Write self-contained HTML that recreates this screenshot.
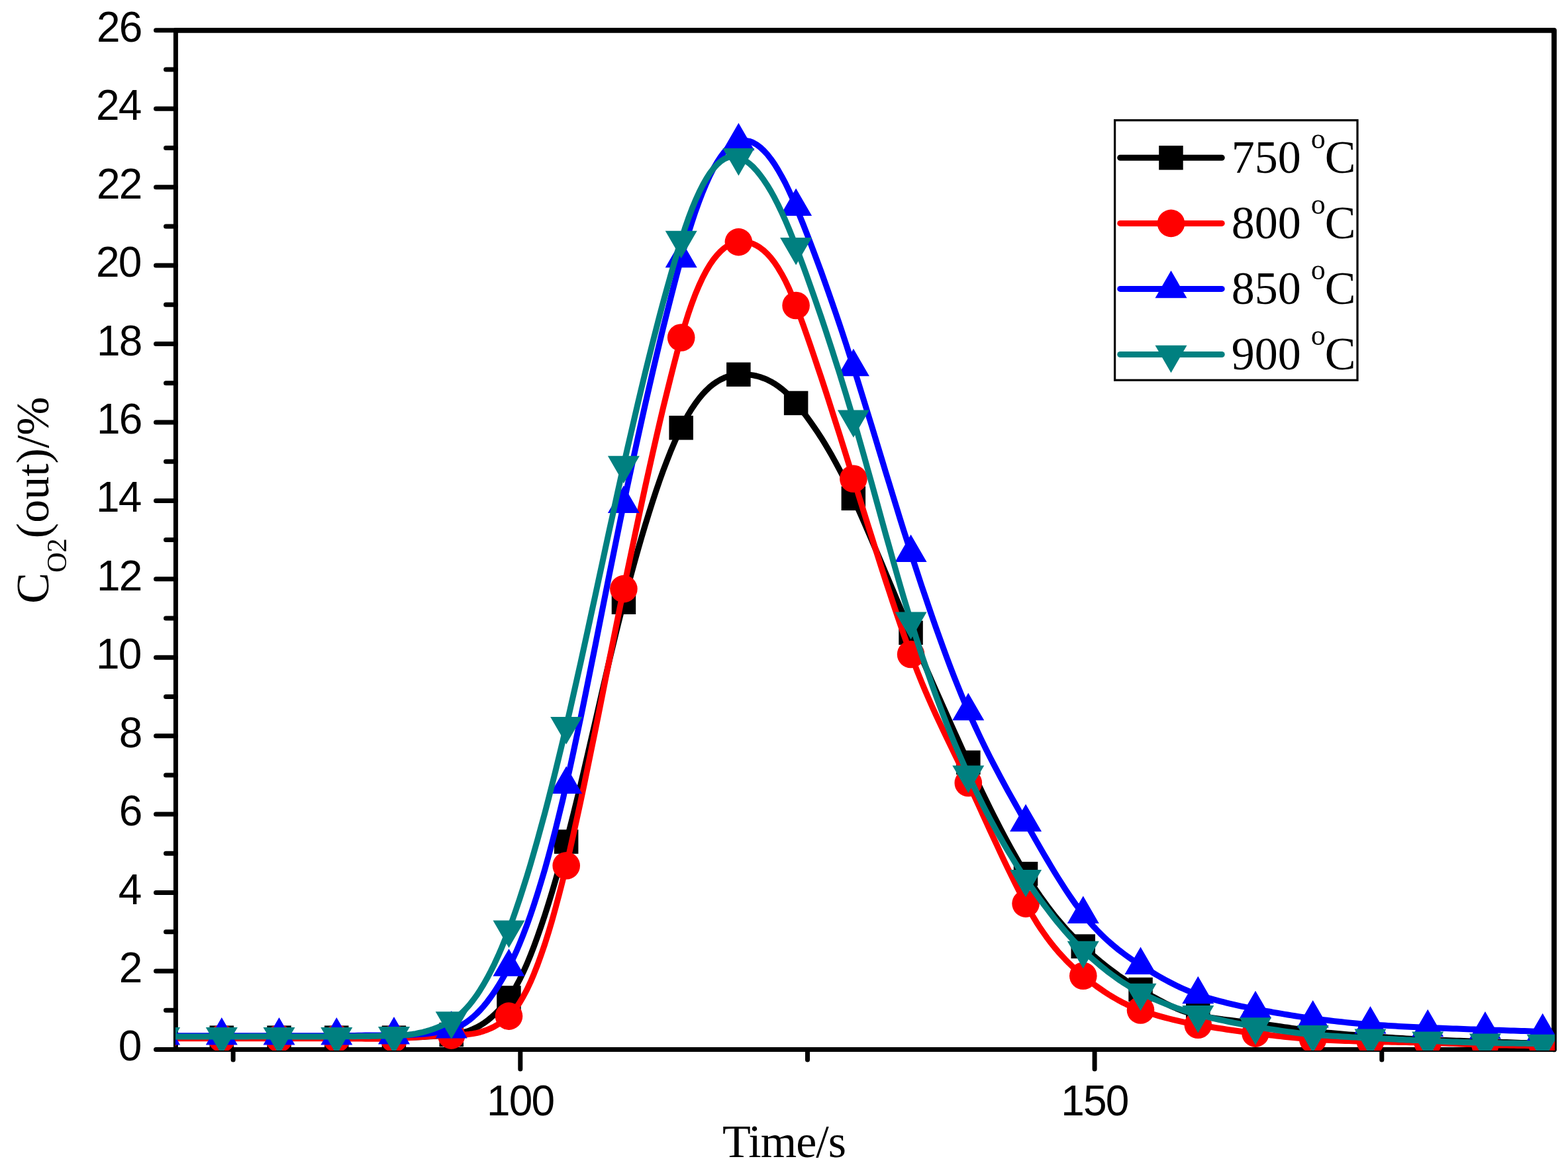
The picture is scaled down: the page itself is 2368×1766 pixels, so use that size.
<!DOCTYPE html><html><head><meta charset="utf-8"><style>html,body{margin:0;padding:0;background:#fff;}svg{display:block;}.s{font-family:"Liberation Sans",Arial,sans-serif;}.r{font-family:"Liberation Serif","Times New Roman",serif;}</style></head><body>
<svg width="2368" height="1766" viewBox="0 0 2368 1766">
<rect width="2368" height="1766" fill="#fff"/>
<g stroke="#000" stroke-linecap="round" fill="none">
<path d="M265.4,45.8 L2347.0,45.8 L2347.0,1585.4" stroke-width="7.8" stroke-linejoin="round"/>
<path d="M265.4,45.8 L265.4,1585.4 L2347.0,1585.4" stroke-width="7.0" stroke-linejoin="round"/>
</g>
<g stroke="#000" stroke-width="7.0" stroke-linecap="round" fill="none">
<line x1="235.5" y1="1585.4" x2="265.4" y2="1585.4"/>
<line x1="250.5" y1="1526.2" x2="265.4" y2="1526.2"/>
<line x1="235.5" y1="1467.0" x2="265.4" y2="1467.0"/>
<line x1="250.5" y1="1407.8" x2="265.4" y2="1407.8"/>
<line x1="235.5" y1="1348.5" x2="265.4" y2="1348.5"/>
<line x1="250.5" y1="1289.3" x2="265.4" y2="1289.3"/>
<line x1="235.5" y1="1230.1" x2="265.4" y2="1230.1"/>
<line x1="250.5" y1="1170.9" x2="265.4" y2="1170.9"/>
<line x1="235.5" y1="1111.7" x2="265.4" y2="1111.7"/>
<line x1="250.5" y1="1052.5" x2="265.4" y2="1052.5"/>
<line x1="235.5" y1="993.2" x2="265.4" y2="993.2"/>
<line x1="250.5" y1="934.0" x2="265.4" y2="934.0"/>
<line x1="235.5" y1="874.8" x2="265.4" y2="874.8"/>
<line x1="250.5" y1="815.6" x2="265.4" y2="815.6"/>
<line x1="235.5" y1="756.4" x2="265.4" y2="756.4"/>
<line x1="250.5" y1="697.2" x2="265.4" y2="697.2"/>
<line x1="235.5" y1="638.0" x2="265.4" y2="638.0"/>
<line x1="250.5" y1="578.7" x2="265.4" y2="578.7"/>
<line x1="235.5" y1="519.5" x2="265.4" y2="519.5"/>
<line x1="250.5" y1="460.3" x2="265.4" y2="460.3"/>
<line x1="235.5" y1="401.1" x2="265.4" y2="401.1"/>
<line x1="250.5" y1="341.9" x2="265.4" y2="341.9"/>
<line x1="235.5" y1="282.7" x2="265.4" y2="282.7"/>
<line x1="250.5" y1="223.4" x2="265.4" y2="223.4"/>
<line x1="235.5" y1="164.2" x2="265.4" y2="164.2"/>
<line x1="250.5" y1="105.0" x2="265.4" y2="105.0"/>
<line x1="235.5" y1="45.8" x2="265.4" y2="45.8"/>
<line x1="352.1" y1="1585.4" x2="352.1" y2="1601.0"/>
<line x1="785.8" y1="1585.4" x2="785.8" y2="1615.0"/>
<line x1="1219.5" y1="1585.4" x2="1219.5" y2="1601.0"/>
<line x1="1653.1" y1="1585.4" x2="1653.1" y2="1615.0"/>
<line x1="2086.8" y1="1585.4" x2="2086.8" y2="1601.0"/>
</g>
<g class="s" font-size="64" letter-spacing="-1.8" fill="#000">
<text x="178.7" y="1602.4">0</text>
<text x="179.7" y="1484.0">2</text>
<text x="178.7" y="1365.5">4</text>
<text x="179.7" y="1247.1">6</text>
<text x="179.7" y="1128.7">8</text>
<text x="144.9" y="1010.2">10</text>
<text x="145.9" y="891.8">12</text>
<text x="144.9" y="773.4">14</text>
<text x="145.9" y="655.0">16</text>
<text x="145.9" y="536.5">18</text>
<text x="144.9" y="418.1">20</text>
<text x="145.9" y="299.7">22</text>
<text x="144.9" y="181.2">24</text>
<text x="145.9" y="62.8">26</text>
<text x="734.9" y="1685">100</text>
<text x="1602.2" y="1685">150</text>
</g>
<defs><clipPath id="c"><rect x="265" y="45.8" width="2083.0" height="1541.2"/></clipPath></defs>
<g clip-path="url(#c)">
<path d="M248.1,1567.6 L253.5,1567.6 L258.9,1567.6 L264.3,1567.6 L269.7,1567.6 L275.2,1567.6 L280.6,1567.6 L286.0,1567.6 L291.4,1567.6 L296.8,1567.6 L302.3,1567.6 L307.7,1567.6 L313.1,1567.6 L318.5,1567.6 L323.9,1567.6 L329.4,1567.6 L334.8,1567.6 L340.2,1567.6 L345.6,1567.6 L351.0,1567.6 L356.5,1567.6 L361.9,1567.6 L367.3,1567.6 L372.7,1567.6 L378.2,1567.6 L383.6,1567.6 L389.0,1567.6 L394.4,1567.6 L399.8,1567.6 L405.3,1567.6 L410.7,1567.6 L416.1,1567.6 L421.5,1567.6 L426.9,1567.6 L432.4,1567.6 L437.8,1567.6 L443.2,1567.6 L448.6,1567.6 L454.0,1567.6 L459.5,1567.6 L464.9,1567.6 L470.3,1567.6 L475.7,1567.6 L481.1,1567.6 L486.6,1567.6 L492.0,1567.6 L497.4,1567.6 L502.8,1567.6 L508.3,1567.6 L513.7,1567.6 L519.1,1567.6 L524.5,1567.7 L529.9,1567.7 L535.4,1567.7 L540.8,1567.7 L546.2,1567.7 L551.6,1567.7 L557.0,1567.7 L562.5,1567.7 L567.9,1567.7 L573.3,1567.7 L578.7,1567.7 L584.1,1567.7 L589.6,1567.7 L595.0,1567.6 L600.4,1567.6 L605.8,1567.5 L611.2,1567.4 L616.7,1567.3 L622.1,1567.1 L627.5,1566.9 L632.9,1566.7 L638.4,1566.4 L643.8,1566.1 L649.2,1565.7 L654.6,1565.4 L660.0,1565.0 L665.5,1564.5 L670.9,1564.1 L676.3,1563.5 L681.7,1563.0 L687.1,1562.4 L692.6,1561.4 L698.0,1560.2 L703.4,1558.7 L708.8,1556.9 L714.2,1554.7 L719.7,1552.2 L725.1,1549.2 L730.5,1545.8 L735.9,1541.9 L741.3,1537.5 L746.8,1532.6 L752.2,1527.2 L757.6,1521.2 L763.0,1514.6 L768.5,1507.4 L773.9,1499.3 L779.3,1490.2 L784.7,1480.0 L790.1,1468.8 L795.6,1456.6 L801.0,1443.5 L806.4,1429.6 L811.8,1414.8 L817.2,1399.2 L822.7,1382.9 L828.1,1365.9 L833.5,1348.2 L838.9,1329.9 L844.3,1311.0 L849.8,1291.5 L855.2,1271.6 L860.6,1251.0 L866.0,1229.6 L871.4,1207.7 L876.9,1185.2 L882.3,1162.3 L887.7,1139.0 L893.1,1115.5 L898.6,1091.9 L904.0,1068.2 L909.4,1044.6 L914.8,1021.2 L920.2,998.0 L925.7,975.1 L931.1,952.8 L936.5,930.9 L941.9,909.8 L947.3,889.1 L952.8,869.0 L958.2,849.2 L963.6,830.0 L969.0,811.3 L974.4,793.1 L979.9,775.4 L985.3,758.4 L990.7,741.9 L996.1,726.1 L1001.5,711.0 L1007.0,696.6 L1012.4,682.8 L1017.8,669.9 L1023.2,657.7 L1028.7,646.2 L1034.1,635.7 L1039.5,626.0 L1044.9,617.2 L1050.3,609.2 L1055.8,601.9 L1061.2,595.4 L1066.6,589.7 L1072.0,584.6 L1077.4,580.2 L1082.9,576.5 L1088.3,573.3 L1093.7,570.8 L1099.1,568.8 L1104.5,567.3 L1110.0,566.3 L1115.4,565.7 L1120.8,565.5 L1126.2,565.6 L1131.6,566.1 L1137.1,566.9 L1142.5,568.0 L1147.9,569.5 L1153.3,571.4 L1158.8,573.7 L1164.2,576.4 L1169.6,579.6 L1175.0,583.2 L1180.4,587.3 L1185.9,591.9 L1191.3,597.1 L1196.7,602.7 L1202.1,608.9 L1207.5,615.6 L1213.0,622.5 L1218.4,629.6 L1223.8,637.1 L1229.2,644.8 L1234.6,652.8 L1240.1,661.2 L1245.5,669.9 L1250.9,679.0 L1256.3,688.3 L1261.7,698.1 L1267.2,708.3 L1272.6,718.8 L1278.0,729.7 L1283.4,741.1 L1288.9,752.8 L1294.3,764.9 L1299.7,777.1 L1305.1,789.5 L1310.5,802.0 L1316.0,814.7 L1321.4,827.4 L1326.8,840.2 L1332.2,853.1 L1337.6,866.0 L1343.1,878.9 L1348.5,891.8 L1353.9,904.7 L1359.3,917.6 L1364.7,930.5 L1370.2,943.2 L1375.6,955.9 L1381.0,968.6 L1386.4,981.1 L1391.8,993.7 L1397.3,1006.2 L1402.7,1018.6 L1408.1,1031.0 L1413.5,1043.3 L1419.0,1055.6 L1424.4,1067.8 L1429.8,1079.9 L1435.2,1092.1 L1440.6,1104.1 L1446.1,1116.2 L1451.5,1128.1 L1456.9,1140.1 L1462.3,1151.9 L1467.7,1163.7 L1473.2,1175.4 L1478.6,1186.8 L1484.0,1198.2 L1489.4,1209.3 L1494.8,1220.3 L1500.3,1231.2 L1505.7,1241.8 L1511.1,1252.3 L1516.5,1262.6 L1521.9,1272.7 L1527.4,1282.6 L1532.8,1292.3 L1538.2,1301.8 L1543.6,1311.1 L1549.1,1320.1 L1554.5,1328.9 L1559.9,1337.4 L1565.3,1345.6 L1570.7,1353.6 L1576.2,1361.2 L1581.6,1368.6 L1587.0,1375.8 L1592.4,1382.7 L1597.8,1389.3 L1603.3,1395.7 L1608.7,1401.9 L1614.1,1407.9 L1619.5,1413.6 L1624.9,1419.2 L1630.4,1424.5 L1635.8,1429.7 L1641.2,1434.7 L1646.6,1439.5 L1652.0,1444.3 L1657.5,1448.9 L1662.9,1453.4 L1668.3,1457.8 L1673.7,1462.0 L1679.2,1466.2 L1684.6,1470.2 L1690.0,1474.1 L1695.4,1477.8 L1700.8,1481.5 L1706.3,1485.0 L1711.7,1488.5 L1717.1,1491.8 L1722.5,1495.0 L1727.9,1498.1 L1733.4,1501.2 L1738.8,1504.3 L1744.2,1507.3 L1749.6,1510.3 L1755.0,1513.1 L1760.5,1515.9 L1765.9,1518.6 L1771.3,1521.1 L1776.7,1523.5 L1782.1,1525.7 L1787.6,1527.7 L1793.0,1529.6 L1798.4,1531.2 L1803.8,1532.7 L1809.3,1533.9 L1814.7,1534.9 L1820.1,1535.9 L1825.5,1536.8 L1830.9,1537.7 L1836.4,1538.5 L1841.8,1539.2 L1847.2,1540.0 L1852.6,1540.6 L1858.0,1541.3 L1863.5,1541.9 L1868.9,1542.6 L1874.3,1543.2 L1879.7,1543.8 L1885.1,1544.4 L1890.6,1545.1 L1896.0,1545.7 L1901.4,1546.4 L1906.8,1547.1 L1912.2,1547.8 L1917.7,1548.5 L1923.1,1549.3 L1928.5,1550.0 L1933.9,1550.8 L1939.4,1551.6 L1944.8,1552.3 L1950.2,1553.1 L1955.6,1553.9 L1961.0,1554.6 L1966.5,1555.4 L1971.9,1556.1 L1977.3,1556.9 L1982.7,1557.6 L1988.1,1558.3 L1993.6,1558.9 L1999.0,1559.5 L2004.4,1560.1 L2009.8,1560.6 L2015.2,1561.1 L2020.7,1561.6 L2026.1,1562.1 L2031.5,1562.5 L2036.9,1562.9 L2042.3,1563.3 L2047.8,1563.7 L2053.2,1564.1 L2058.6,1564.5 L2064.0,1564.9 L2069.5,1565.3 L2074.9,1565.7 L2080.3,1566.0 L2085.7,1566.4 L2091.1,1566.8 L2096.6,1567.2 L2102.0,1567.5 L2107.4,1567.9 L2112.8,1568.3 L2118.2,1568.6 L2123.7,1568.9 L2129.1,1569.3 L2134.5,1569.6 L2139.9,1569.8 L2145.3,1570.1 L2150.8,1570.4 L2156.2,1570.6 L2161.6,1570.8 L2167.0,1571.0 L2172.4,1571.2 L2177.9,1571.4 L2183.3,1571.6 L2188.7,1571.8 L2194.1,1572.0 L2199.6,1572.2 L2205.0,1572.3 L2210.4,1572.5 L2215.8,1572.7 L2221.2,1572.9 L2226.7,1573.0 L2232.1,1573.2 L2237.5,1573.4 L2242.9,1573.6 L2248.3,1573.7 L2253.8,1573.9 L2259.2,1574.1 L2264.6,1574.3 L2270.0,1574.5 L2275.4,1574.6 L2280.9,1574.8 L2286.3,1575.0 L2291.7,1575.2 L2297.1,1575.4 L2302.5,1575.6 L2308.0,1575.8 L2313.4,1575.9 L2318.8,1576.1 L2324.2,1576.3 L2329.7,1576.5" fill="none" stroke="#000000" stroke-width="9.0" stroke-linejoin="round"/>
<g fill="#000000">
<rect x="229.8" y="1549.4" width="36.5" height="36.5"/>
<rect x="316.5" y="1549.4" width="36.5" height="36.5"/>
<rect x="403.3" y="1549.4" width="36.5" height="36.5"/>
<rect x="490.0" y="1549.4" width="36.5" height="36.5"/>
<rect x="576.7" y="1549.4" width="36.5" height="36.5"/>
<rect x="663.5" y="1544.8" width="36.5" height="36.5"/>
<rect x="750.2" y="1489.2" width="36.5" height="36.5"/>
<rect x="836.9" y="1253.3" width="36.5" height="36.5"/>
<rect x="923.7" y="891.5" width="36.5" height="36.5"/>
<rect x="1010.4" y="628.0" width="36.5" height="36.5"/>
<rect x="1097.1" y="547.5" width="36.5" height="36.5"/>
<rect x="1183.9" y="590.7" width="36.5" height="36.5"/>
<rect x="1270.6" y="734.6" width="36.5" height="36.5"/>
<rect x="1357.3" y="937.7" width="36.5" height="36.5"/>
<rect x="1444.1" y="1133.7" width="36.5" height="36.5"/>
<rect x="1530.8" y="1301.9" width="36.5" height="36.5"/>
<rect x="1617.5" y="1411.4" width="36.5" height="36.5"/>
<rect x="1704.3" y="1476.7" width="36.5" height="36.5"/>
<rect x="1791.0" y="1515.6" width="36.5" height="36.5"/>
<rect x="1877.7" y="1527.5" width="36.5" height="36.5"/>
<rect x="1964.5" y="1539.3" width="36.5" height="36.5"/>
<rect x="2051.2" y="1547.0" width="36.5" height="36.5"/>
<rect x="2137.9" y="1552.3" width="36.5" height="36.5"/>
<rect x="2224.7" y="1555.3" width="36.5" height="36.5"/>
<rect x="2311.4" y="1558.3" width="36.5" height="36.5"/>
</g>
<path d="M248.1,1568.8 L253.5,1568.8 L258.9,1568.8 L264.3,1568.8 L269.7,1568.8 L275.2,1568.8 L280.6,1568.8 L286.0,1568.8 L291.4,1568.8 L296.8,1568.8 L302.3,1568.8 L307.7,1568.8 L313.1,1568.8 L318.5,1568.8 L323.9,1568.8 L329.4,1568.8 L334.8,1568.8 L340.2,1568.8 L345.6,1568.8 L351.0,1568.8 L356.5,1568.8 L361.9,1568.8 L367.3,1568.8 L372.7,1568.8 L378.2,1568.8 L383.6,1568.8 L389.0,1568.8 L394.4,1568.8 L399.8,1568.8 L405.3,1568.8 L410.7,1568.8 L416.1,1568.8 L421.5,1568.8 L426.9,1568.8 L432.4,1568.8 L437.8,1568.8 L443.2,1568.8 L448.6,1568.8 L454.0,1568.7 L459.5,1568.7 L464.9,1568.7 L470.3,1568.7 L475.7,1568.7 L481.1,1568.7 L486.6,1568.7 L492.0,1568.7 L497.4,1568.8 L502.8,1568.8 L508.3,1568.8 L513.7,1568.9 L519.1,1568.9 L524.5,1569.0 L529.9,1569.0 L535.4,1569.1 L540.8,1569.1 L546.2,1569.1 L551.6,1569.2 L557.0,1569.2 L562.5,1569.2 L567.9,1569.2 L573.3,1569.2 L578.7,1569.1 L584.1,1569.0 L589.6,1568.9 L595.0,1568.8 L600.4,1568.6 L605.8,1568.4 L611.2,1568.1 L616.7,1567.8 L622.1,1567.5 L627.5,1567.1 L632.9,1566.7 L638.4,1566.4 L643.8,1566.0 L649.2,1565.6 L654.6,1565.2 L660.0,1564.9 L665.5,1564.6 L670.9,1564.4 L676.3,1564.2 L681.7,1564.1 L687.1,1564.0 L692.6,1563.8 L698.0,1563.5 L703.4,1563.0 L708.8,1562.4 L714.2,1561.6 L719.7,1560.6 L725.1,1559.3 L730.5,1557.6 L735.9,1555.7 L741.3,1553.4 L746.8,1550.7 L752.2,1547.5 L757.6,1543.9 L763.0,1539.8 L768.5,1535.1 L773.9,1529.6 L779.3,1522.8 L784.7,1514.9 L790.1,1505.7 L795.6,1495.4 L801.0,1483.9 L806.4,1471.2 L811.8,1457.5 L817.2,1442.5 L822.7,1426.5 L828.1,1409.4 L833.5,1391.2 L838.9,1371.9 L844.3,1351.5 L849.8,1330.1 L855.2,1307.7 L860.6,1284.4 L866.0,1260.3 L871.4,1235.7 L876.9,1210.5 L882.3,1184.8 L887.7,1158.7 L893.1,1132.2 L898.6,1105.4 L904.0,1078.5 L909.4,1051.3 L914.8,1024.2 L920.2,997.0 L925.7,969.9 L931.1,942.9 L936.5,916.1 L941.9,889.6 L947.3,863.4 L952.8,837.3 L958.2,811.4 L963.6,785.7 L969.0,760.3 L974.4,735.3 L979.9,710.6 L985.3,686.3 L990.7,662.4 L996.1,638.9 L1001.5,616.0 L1007.0,593.6 L1012.4,571.8 L1017.8,550.5 L1023.2,529.9 L1028.7,510.0 L1034.1,491.3 L1039.5,474.0 L1044.9,458.3 L1050.3,444.0 L1055.8,431.0 L1061.2,419.4 L1066.6,409.1 L1072.0,400.0 L1077.4,392.1 L1082.9,385.3 L1088.3,379.6 L1093.7,374.9 L1099.1,371.2 L1104.5,368.5 L1110.0,366.6 L1115.4,365.6 L1120.8,365.2 L1126.2,365.6 L1131.6,366.6 L1137.1,368.3 L1142.5,370.9 L1147.9,374.2 L1153.3,378.4 L1158.8,383.5 L1164.2,389.6 L1169.6,396.6 L1175.0,404.6 L1180.4,413.7 L1185.9,423.9 L1191.3,435.2 L1196.7,447.8 L1202.1,461.5 L1207.5,476.0 L1213.0,490.9 L1218.4,506.2 L1223.8,521.7 L1229.2,537.6 L1234.6,553.7 L1240.1,570.0 L1245.5,586.5 L1250.9,603.2 L1256.3,620.1 L1261.7,637.1 L1267.2,654.2 L1272.6,671.4 L1278.0,688.7 L1283.4,705.9 L1288.9,723.2 L1294.3,740.5 L1299.7,757.8 L1305.1,775.2 L1310.5,792.4 L1316.0,809.7 L1321.4,826.8 L1326.8,843.9 L1332.2,860.8 L1337.6,877.5 L1343.1,894.1 L1348.5,910.5 L1353.9,926.7 L1359.3,942.6 L1364.7,958.2 L1370.2,973.5 L1375.6,988.5 L1381.0,1003.0 L1386.4,1017.0 L1391.8,1030.4 L1397.3,1043.4 L1402.7,1056.0 L1408.1,1068.2 L1413.5,1080.1 L1419.0,1091.8 L1424.4,1103.2 L1429.8,1114.6 L1435.2,1125.8 L1440.6,1137.1 L1446.1,1148.3 L1451.5,1159.6 L1456.9,1171.1 L1462.3,1182.7 L1467.7,1194.5 L1473.2,1206.4 L1478.6,1218.2 L1484.0,1230.1 L1489.4,1242.0 L1494.8,1253.8 L1500.3,1265.6 L1505.7,1277.2 L1511.1,1288.8 L1516.5,1300.3 L1521.9,1311.6 L1527.4,1322.7 L1532.8,1333.7 L1538.2,1344.4 L1543.6,1354.9 L1549.1,1365.1 L1554.5,1375.0 L1559.9,1384.3 L1565.3,1393.2 L1570.7,1401.6 L1576.2,1409.5 L1581.6,1417.1 L1587.0,1424.2 L1592.4,1431.0 L1597.8,1437.4 L1603.3,1443.5 L1608.7,1449.3 L1614.1,1454.8 L1619.5,1460.0 L1624.9,1465.0 L1630.4,1469.8 L1635.8,1474.3 L1641.2,1478.7 L1646.6,1482.9 L1652.0,1487.0 L1657.5,1491.0 L1662.9,1494.8 L1668.3,1498.5 L1673.7,1502.0 L1679.2,1505.3 L1684.6,1508.5 L1690.0,1511.6 L1695.4,1514.4 L1700.8,1517.1 L1706.3,1519.6 L1711.7,1521.9 L1717.1,1524.1 L1722.5,1526.0 L1727.9,1527.8 L1733.4,1529.6 L1738.8,1531.3 L1744.2,1533.0 L1749.6,1534.6 L1755.0,1536.1 L1760.5,1537.6 L1765.9,1539.0 L1771.3,1540.3 L1776.7,1541.6 L1782.1,1542.9 L1787.6,1544.1 L1793.0,1545.2 L1798.4,1546.3 L1803.8,1547.3 L1809.3,1548.2 L1814.7,1549.1 L1820.1,1550.0 L1825.5,1550.9 L1830.9,1551.8 L1836.4,1552.7 L1841.8,1553.5 L1847.2,1554.3 L1852.6,1555.2 L1858.0,1556.0 L1863.5,1556.8 L1868.9,1557.5 L1874.3,1558.3 L1879.7,1559.0 L1885.1,1559.7 L1890.6,1560.4 L1896.0,1561.1 L1901.4,1561.8 L1906.8,1562.4 L1912.2,1563.1 L1917.7,1563.7 L1923.1,1564.4 L1928.5,1565.0 L1933.9,1565.6 L1939.4,1566.2 L1944.8,1566.8 L1950.2,1567.3 L1955.6,1567.8 L1961.0,1568.3 L1966.5,1568.8 L1971.9,1569.2 L1977.3,1569.6 L1982.7,1570.0 L1988.1,1570.3 L1993.6,1570.7 L1999.0,1571.0 L2004.4,1571.3 L2009.8,1571.5 L2015.2,1571.8 L2020.7,1572.0 L2026.1,1572.2 L2031.5,1572.4 L2036.9,1572.6 L2042.3,1572.8 L2047.8,1573.0 L2053.2,1573.1 L2058.6,1573.3 L2064.0,1573.4 L2069.5,1573.6 L2074.9,1573.7 L2080.3,1573.8 L2085.7,1573.9 L2091.1,1574.0 L2096.6,1574.1 L2102.0,1574.2 L2107.4,1574.3 L2112.8,1574.4 L2118.2,1574.5 L2123.7,1574.6 L2129.1,1574.7 L2134.5,1574.8 L2139.9,1574.9 L2145.3,1575.0 L2150.8,1575.2 L2156.2,1575.3 L2161.6,1575.5 L2167.0,1575.7 L2172.4,1575.8 L2177.9,1576.0 L2183.3,1576.2 L2188.7,1576.4 L2194.1,1576.6 L2199.6,1576.8 L2205.0,1577.0 L2210.4,1577.2 L2215.8,1577.4 L2221.2,1577.6 L2226.7,1577.8 L2232.1,1578.0 L2237.5,1578.1 L2242.9,1578.3 L2248.3,1578.4 L2253.8,1578.6 L2259.2,1578.7 L2264.6,1578.9 L2270.0,1579.0 L2275.4,1579.1 L2280.9,1579.2 L2286.3,1579.3 L2291.7,1579.4 L2297.1,1579.5 L2302.5,1579.6 L2308.0,1579.7 L2313.4,1579.8 L2318.8,1579.9 L2324.2,1580.0 L2329.7,1580.1" fill="none" stroke="#ff0000" stroke-width="9.0" stroke-linejoin="round"/>
<g fill="#ff0000">
<circle cx="248.1" cy="1568.8" r="20.8"/>
<circle cx="334.8" cy="1568.8" r="20.8"/>
<circle cx="421.5" cy="1568.8" r="20.8"/>
<circle cx="508.3" cy="1568.8" r="20.8"/>
<circle cx="595.0" cy="1568.8" r="20.8"/>
<circle cx="681.7" cy="1564.1" r="20.8"/>
<circle cx="768.5" cy="1535.1" r="20.8"/>
<circle cx="855.2" cy="1307.7" r="20.8"/>
<circle cx="941.9" cy="889.6" r="20.8"/>
<circle cx="1028.7" cy="510.0" r="20.8"/>
<circle cx="1115.4" cy="365.6" r="20.8"/>
<circle cx="1202.1" cy="461.5" r="20.8"/>
<circle cx="1288.9" cy="723.2" r="20.8"/>
<circle cx="1375.6" cy="988.5" r="20.8"/>
<circle cx="1462.3" cy="1182.7" r="20.8"/>
<circle cx="1549.1" cy="1365.1" r="20.8"/>
<circle cx="1635.8" cy="1474.3" r="20.8"/>
<circle cx="1722.5" cy="1526.0" r="20.8"/>
<circle cx="1809.3" cy="1548.2" r="20.8"/>
<circle cx="1896.0" cy="1561.1" r="20.8"/>
<circle cx="1982.7" cy="1570.0" r="20.8"/>
<circle cx="2069.5" cy="1573.6" r="20.8"/>
<circle cx="2156.2" cy="1575.3" r="20.8"/>
<circle cx="2242.9" cy="1578.3" r="20.8"/>
<circle cx="2329.7" cy="1580.1" r="20.8"/>
</g>
<path d="M248.1,1564.7 L253.5,1564.7 L258.9,1564.7 L264.3,1564.7 L269.7,1564.7 L275.2,1564.7 L280.6,1564.7 L286.0,1564.7 L291.4,1564.7 L296.8,1564.7 L302.3,1564.7 L307.7,1564.7 L313.1,1564.7 L318.5,1564.7 L323.9,1564.7 L329.4,1564.7 L334.8,1564.7 L340.2,1564.7 L345.6,1564.7 L351.0,1564.7 L356.5,1564.7 L361.9,1564.7 L367.3,1564.7 L372.7,1564.7 L378.2,1564.7 L383.6,1564.7 L389.0,1564.7 L394.4,1564.7 L399.8,1564.7 L405.3,1564.7 L410.7,1564.7 L416.1,1564.7 L421.5,1564.7 L426.9,1564.7 L432.4,1564.7 L437.8,1564.7 L443.2,1564.7 L448.6,1564.7 L454.0,1564.7 L459.5,1564.8 L464.9,1564.8 L470.3,1564.8 L475.7,1564.8 L481.1,1564.8 L486.6,1564.8 L492.0,1564.7 L497.4,1564.7 L502.8,1564.7 L508.3,1564.7 L513.7,1564.6 L519.1,1564.6 L524.5,1564.5 L529.9,1564.5 L535.4,1564.4 L540.8,1564.3 L546.2,1564.2 L551.6,1564.1 L557.0,1564.1 L562.5,1564.0 L567.9,1563.9 L573.3,1563.9 L578.7,1563.8 L584.1,1563.8 L589.6,1563.8 L595.0,1563.8 L600.4,1563.8 L605.8,1563.7 L611.2,1563.6 L616.7,1563.5 L622.1,1563.3 L627.5,1563.0 L632.9,1562.6 L638.4,1562.2 L643.8,1561.7 L649.2,1561.0 L654.6,1560.3 L660.0,1559.4 L665.5,1558.5 L670.9,1557.4 L676.3,1556.2 L681.7,1554.8 L687.1,1553.1 L692.6,1550.8 L698.0,1548.1 L703.4,1544.8 L708.8,1540.9 L714.2,1536.5 L719.7,1531.5 L725.1,1526.0 L730.5,1519.9 L735.9,1513.3 L741.3,1506.0 L746.8,1498.2 L752.2,1489.8 L757.6,1480.8 L763.0,1471.2 L768.5,1461.0 L773.9,1450.1 L779.3,1438.4 L784.7,1425.7 L790.1,1412.3 L795.6,1397.9 L801.0,1382.8 L806.4,1366.7 L811.8,1349.9 L817.2,1332.2 L822.7,1313.7 L828.1,1294.3 L833.5,1274.1 L838.9,1253.1 L844.3,1231.2 L849.8,1208.6 L855.2,1185.1 L860.6,1160.9 L866.0,1136.0 L871.4,1110.5 L876.9,1084.6 L882.3,1058.2 L887.7,1031.4 L893.1,1004.4 L898.6,977.2 L904.0,949.8 L909.4,922.4 L914.8,895.1 L920.2,867.8 L925.7,840.7 L931.1,813.8 L936.5,787.3 L941.9,761.1 L947.3,735.3 L952.8,709.8 L958.2,684.6 L963.6,659.7 L969.0,635.2 L974.4,611.0 L979.9,587.1 L985.3,563.6 L990.7,540.5 L996.1,517.7 L1001.5,495.4 L1007.0,473.5 L1012.4,452.1 L1017.8,431.1 L1023.2,410.5 L1028.7,390.4 L1034.1,371.1 L1039.5,352.8 L1044.9,335.6 L1050.3,319.4 L1055.8,304.3 L1061.2,290.2 L1066.6,277.3 L1072.0,265.5 L1077.4,254.8 L1082.9,245.3 L1088.3,237.0 L1093.7,229.8 L1099.1,223.9 L1104.5,219.1 L1110.0,215.6 L1115.4,213.4 L1120.8,212.3 L1126.2,212.3 L1131.6,213.3 L1137.1,215.3 L1142.5,218.4 L1147.9,222.4 L1153.3,227.4 L1158.8,233.3 L1164.2,240.2 L1169.6,247.9 L1175.0,256.6 L1180.4,266.1 L1185.9,276.4 L1191.3,287.6 L1196.7,299.5 L1202.1,312.3 L1207.5,325.5 L1213.0,339.0 L1218.4,352.8 L1223.8,366.8 L1229.2,381.1 L1234.6,395.6 L1240.1,410.4 L1245.5,425.4 L1250.9,440.7 L1256.3,456.2 L1261.7,471.9 L1267.2,488.0 L1272.6,504.2 L1278.0,520.7 L1283.4,537.5 L1288.9,554.5 L1294.3,571.7 L1299.7,589.1 L1305.1,606.6 L1310.5,624.2 L1316.0,642.0 L1321.4,659.8 L1326.8,677.6 L1332.2,695.4 L1337.6,713.3 L1343.1,731.0 L1348.5,748.7 L1353.9,766.3 L1359.3,783.8 L1364.7,801.1 L1370.2,818.2 L1375.6,835.1 L1381.0,851.9 L1386.4,868.4 L1391.8,884.8 L1397.3,901.0 L1402.7,917.0 L1408.1,932.7 L1413.5,948.2 L1419.0,963.5 L1424.4,978.5 L1429.8,993.2 L1435.2,1007.6 L1440.6,1021.6 L1446.1,1035.4 L1451.5,1048.8 L1456.9,1061.8 L1462.3,1074.4 L1467.7,1086.6 L1473.2,1098.5 L1478.6,1110.1 L1484.0,1121.4 L1489.4,1132.5 L1494.8,1143.3 L1500.3,1153.9 L1505.7,1164.2 L1511.1,1174.4 L1516.5,1184.4 L1521.9,1194.3 L1527.4,1204.1 L1532.8,1213.8 L1538.2,1223.4 L1543.6,1233.0 L1549.1,1242.5 L1554.5,1252.1 L1559.9,1261.6 L1565.3,1271.1 L1570.7,1280.5 L1576.2,1289.9 L1581.6,1299.1 L1587.0,1308.2 L1592.4,1317.2 L1597.8,1326.0 L1603.3,1334.6 L1608.7,1343.1 L1614.1,1351.2 L1619.5,1359.1 L1624.9,1366.8 L1630.4,1374.1 L1635.8,1381.1 L1641.2,1387.8 L1646.6,1394.1 L1652.0,1400.2 L1657.5,1406.0 L1662.9,1411.5 L1668.3,1416.7 L1673.7,1421.7 L1679.2,1426.5 L1684.6,1431.0 L1690.0,1435.4 L1695.4,1439.5 L1700.8,1443.5 L1706.3,1447.4 L1711.7,1451.1 L1717.1,1454.6 L1722.5,1458.1 L1727.9,1461.5 L1733.4,1464.8 L1738.8,1468.1 L1744.2,1471.3 L1749.6,1474.5 L1755.0,1477.6 L1760.5,1480.6 L1765.9,1483.5 L1771.3,1486.3 L1776.7,1489.0 L1782.1,1491.6 L1787.6,1494.0 L1793.0,1496.4 L1798.4,1498.6 L1803.8,1500.6 L1809.3,1502.5 L1814.7,1504.3 L1820.1,1506.0 L1825.5,1507.7 L1830.9,1509.3 L1836.4,1510.8 L1841.8,1512.3 L1847.2,1513.7 L1852.6,1515.1 L1858.0,1516.4 L1863.5,1517.7 L1868.9,1518.9 L1874.3,1520.1 L1879.7,1521.2 L1885.1,1522.3 L1890.6,1523.4 L1896.0,1524.4 L1901.4,1525.4 L1906.8,1526.4 L1912.2,1527.4 L1917.7,1528.3 L1923.1,1529.3 L1928.5,1530.2 L1933.9,1531.2 L1939.4,1532.1 L1944.8,1533.0 L1950.2,1533.9 L1955.6,1534.7 L1961.0,1535.6 L1966.5,1536.4 L1971.9,1537.1 L1977.3,1537.9 L1982.7,1538.6 L1988.1,1539.3 L1993.6,1540.0 L1999.0,1540.7 L2004.4,1541.3 L2009.8,1542.0 L2015.2,1542.6 L2020.7,1543.2 L2026.1,1543.8 L2031.5,1544.4 L2036.9,1544.9 L2042.3,1545.4 L2047.8,1545.9 L2053.2,1546.4 L2058.6,1546.9 L2064.0,1547.3 L2069.5,1547.7 L2074.9,1548.1 L2080.3,1548.4 L2085.7,1548.8 L2091.1,1549.1 L2096.6,1549.5 L2102.0,1549.8 L2107.4,1550.1 L2112.8,1550.4 L2118.2,1550.7 L2123.7,1551.0 L2129.1,1551.3 L2134.5,1551.5 L2139.9,1551.8 L2145.3,1552.0 L2150.8,1552.3 L2156.2,1552.5 L2161.6,1552.7 L2167.0,1552.9 L2172.4,1553.1 L2177.9,1553.3 L2183.3,1553.5 L2188.7,1553.7 L2194.1,1553.9 L2199.6,1554.1 L2205.0,1554.3 L2210.4,1554.5 L2215.8,1554.7 L2221.2,1554.9 L2226.7,1555.1 L2232.1,1555.2 L2237.5,1555.4 L2242.9,1555.6 L2248.3,1555.8 L2253.8,1556.0 L2259.2,1556.2 L2264.6,1556.3 L2270.0,1556.5 L2275.4,1556.7 L2280.9,1556.9 L2286.3,1557.1 L2291.7,1557.3 L2297.1,1557.4 L2302.5,1557.6 L2308.0,1557.8 L2313.4,1558.0 L2318.8,1558.2 L2324.2,1558.3 L2329.7,1558.5" fill="none" stroke="#0000ff" stroke-width="9.0" stroke-linejoin="round"/>
<g fill="#0000ff">
<polygon points="248.1,1537.0 272.1,1578.5 224.1,1578.5"/>
<polygon points="334.8,1537.0 358.8,1578.5 310.8,1578.5"/>
<polygon points="421.5,1537.0 445.5,1578.5 397.5,1578.5"/>
<polygon points="508.3,1537.0 532.3,1578.5 484.3,1578.5"/>
<polygon points="595.0,1536.1 619.0,1577.6 571.0,1577.6"/>
<polygon points="681.7,1527.1 705.7,1568.6 657.7,1568.6"/>
<polygon points="768.5,1433.3 792.5,1474.8 744.5,1474.8"/>
<polygon points="855.2,1157.4 879.2,1198.9 831.2,1198.9"/>
<polygon points="941.9,733.4 965.9,774.9 917.9,774.9"/>
<polygon points="1028.7,362.7 1052.7,404.2 1004.7,404.2"/>
<polygon points="1115.4,185.7 1139.4,227.2 1091.4,227.2"/>
<polygon points="1202.1,284.6 1226.1,326.1 1178.1,326.1"/>
<polygon points="1288.9,526.8 1312.9,568.3 1264.9,568.3"/>
<polygon points="1375.6,807.4 1399.6,848.9 1351.6,848.9"/>
<polygon points="1462.3,1046.7 1486.3,1088.2 1438.3,1088.2"/>
<polygon points="1549.1,1214.8 1573.1,1256.3 1525.1,1256.3"/>
<polygon points="1635.8,1353.4 1659.8,1394.9 1611.8,1394.9"/>
<polygon points="1722.5,1430.4 1746.5,1471.9 1698.5,1471.9"/>
<polygon points="1809.3,1474.8 1833.3,1516.3 1785.3,1516.3"/>
<polygon points="1896.0,1496.7 1920.0,1538.2 1872.0,1538.2"/>
<polygon points="1982.7,1510.9 2006.7,1552.4 1958.7,1552.4"/>
<polygon points="2069.5,1520.0 2093.5,1561.5 2045.5,1561.5"/>
<polygon points="2156.2,1524.8 2180.2,1566.3 2132.2,1566.3"/>
<polygon points="2242.9,1527.9 2266.9,1569.4 2218.9,1569.4"/>
<polygon points="2329.7,1530.8 2353.7,1572.3 2305.7,1572.3"/>
</g>
<path d="M248.1,1565.9 L253.5,1565.9 L258.9,1565.9 L264.3,1565.9 L269.7,1565.9 L275.2,1565.9 L280.6,1565.9 L286.0,1565.9 L291.4,1565.9 L296.8,1565.9 L302.3,1565.9 L307.7,1565.9 L313.1,1565.9 L318.5,1565.9 L323.9,1565.9 L329.4,1565.9 L334.8,1565.9 L340.2,1565.9 L345.6,1565.9 L351.0,1565.9 L356.5,1565.9 L361.9,1565.9 L367.3,1565.9 L372.7,1565.9 L378.2,1565.8 L383.6,1565.8 L389.0,1565.8 L394.4,1565.8 L399.8,1565.8 L405.3,1565.9 L410.7,1565.9 L416.1,1565.9 L421.5,1565.9 L426.9,1565.9 L432.4,1565.9 L437.8,1565.9 L443.2,1565.9 L448.6,1565.9 L454.0,1565.9 L459.5,1565.9 L464.9,1565.9 L470.3,1565.9 L475.7,1565.9 L481.1,1565.9 L486.6,1565.9 L492.0,1565.9 L497.4,1565.9 L502.8,1565.9 L508.3,1565.9 L513.7,1565.8 L519.1,1565.8 L524.5,1565.8 L529.9,1565.7 L535.4,1565.7 L540.8,1565.6 L546.2,1565.5 L551.6,1565.4 L557.0,1565.4 L562.5,1565.3 L567.9,1565.2 L573.3,1565.1 L578.7,1565.0 L584.1,1564.9 L589.6,1564.8 L595.0,1564.7 L600.4,1564.5 L605.8,1564.2 L611.2,1563.8 L616.7,1563.2 L622.1,1562.5 L627.5,1561.6 L632.9,1560.5 L638.4,1559.3 L643.8,1557.9 L649.2,1556.3 L654.6,1554.5 L660.0,1552.4 L665.5,1550.2 L670.9,1547.7 L676.3,1545.0 L681.7,1542.0 L687.1,1538.6 L692.6,1534.5 L698.0,1529.7 L703.4,1524.3 L708.8,1518.2 L714.2,1511.4 L719.7,1503.9 L725.1,1495.7 L730.5,1486.9 L735.9,1477.3 L741.3,1467.0 L746.8,1455.9 L752.2,1444.2 L757.6,1431.7 L763.0,1418.4 L768.5,1404.4 L773.9,1389.7 L779.3,1374.3 L784.7,1358.3 L790.1,1341.5 L795.6,1324.2 L801.0,1306.2 L806.4,1287.6 L811.8,1268.5 L817.2,1248.8 L822.7,1228.6 L828.1,1207.8 L833.5,1186.5 L838.9,1164.8 L844.3,1142.6 L849.8,1119.9 L855.2,1096.9 L860.6,1073.4 L866.0,1049.6 L871.4,1025.4 L876.9,1001.0 L882.3,976.3 L887.7,951.5 L893.1,926.5 L898.6,901.4 L904.0,876.3 L909.4,851.2 L914.8,826.0 L920.2,801.0 L925.7,776.1 L931.1,751.3 L936.5,726.8 L941.9,702.5 L947.3,678.5 L952.8,654.7 L958.2,631.2 L963.6,608.1 L969.0,585.3 L974.4,562.8 L979.9,540.7 L985.3,519.0 L990.7,497.8 L996.1,477.0 L1001.5,456.6 L1007.0,436.8 L1012.4,417.4 L1017.8,398.6 L1023.2,380.3 L1028.7,362.6 L1034.1,345.8 L1039.5,330.2 L1044.9,315.8 L1050.3,302.6 L1055.8,290.6 L1061.2,279.8 L1066.6,270.2 L1072.0,261.8 L1077.4,254.6 L1082.9,248.6 L1088.3,243.8 L1093.7,240.2 L1099.1,237.8 L1104.5,236.5 L1110.0,236.5 L1115.4,237.7 L1120.8,239.9 L1126.2,243.0 L1131.6,247.0 L1137.1,251.9 L1142.5,257.7 L1147.9,264.3 L1153.3,271.7 L1158.8,279.9 L1164.2,288.9 L1169.6,298.7 L1175.0,309.3 L1180.4,320.6 L1185.9,332.5 L1191.3,345.2 L1196.7,358.6 L1202.1,372.7 L1207.5,387.1 L1213.0,401.8 L1218.4,416.8 L1223.8,431.9 L1229.2,447.3 L1234.6,462.9 L1240.1,478.8 L1245.5,494.9 L1250.9,511.3 L1256.3,527.9 L1261.7,544.8 L1267.2,561.9 L1272.6,579.3 L1278.0,597.0 L1283.4,615.0 L1288.9,633.2 L1294.3,651.8 L1299.7,670.7 L1305.1,689.8 L1310.5,709.1 L1316.0,728.6 L1321.4,748.3 L1326.8,767.9 L1332.2,787.6 L1337.6,807.2 L1343.1,826.6 L1348.5,846.0 L1353.9,865.1 L1359.3,883.9 L1364.7,902.4 L1370.2,920.5 L1375.6,938.2 L1381.0,955.4 L1386.4,972.3 L1391.8,988.8 L1397.3,1004.9 L1402.7,1020.6 L1408.1,1035.9 L1413.5,1050.9 L1419.0,1065.6 L1424.4,1079.8 L1429.8,1093.8 L1435.2,1107.3 L1440.6,1120.6 L1446.1,1133.5 L1451.5,1146.1 L1456.9,1158.4 L1462.3,1170.3 L1467.7,1182.0 L1473.2,1193.4 L1478.6,1204.5 L1484.0,1215.4 L1489.4,1226.1 L1494.8,1236.5 L1500.3,1246.7 L1505.7,1256.6 L1511.1,1266.3 L1516.5,1275.8 L1521.9,1285.0 L1527.4,1294.0 L1532.8,1302.8 L1538.2,1311.3 L1543.6,1319.7 L1549.1,1327.8 L1554.5,1335.8 L1559.9,1343.6 L1565.3,1351.3 L1570.7,1358.8 L1576.2,1366.2 L1581.6,1373.4 L1587.0,1380.5 L1592.4,1387.4 L1597.8,1394.1 L1603.3,1400.6 L1608.7,1407.0 L1614.1,1413.1 L1619.5,1419.1 L1624.9,1424.8 L1630.4,1430.3 L1635.8,1435.6 L1641.2,1440.7 L1646.6,1445.7 L1652.0,1450.5 L1657.5,1455.2 L1662.9,1459.7 L1668.3,1464.1 L1673.7,1468.4 L1679.2,1472.5 L1684.6,1476.4 L1690.0,1480.2 L1695.4,1483.9 L1700.8,1487.3 L1706.3,1490.6 L1711.7,1493.8 L1717.1,1496.7 L1722.5,1499.5 L1727.9,1502.2 L1733.4,1504.8 L1738.8,1507.3 L1744.2,1509.8 L1749.6,1512.1 L1755.0,1514.4 L1760.5,1516.6 L1765.9,1518.8 L1771.3,1520.8 L1776.7,1522.8 L1782.1,1524.6 L1787.6,1526.4 L1793.0,1528.1 L1798.4,1529.7 L1803.8,1531.3 L1809.3,1532.7 L1814.7,1534.1 L1820.1,1535.4 L1825.5,1536.7 L1830.9,1538.0 L1836.4,1539.3 L1841.8,1540.5 L1847.2,1541.7 L1852.6,1542.9 L1858.0,1544.0 L1863.5,1545.1 L1868.9,1546.2 L1874.3,1547.2 L1879.7,1548.2 L1885.1,1549.2 L1890.6,1550.1 L1896.0,1551.1 L1901.4,1551.9 L1906.8,1552.8 L1912.2,1553.7 L1917.7,1554.6 L1923.1,1555.4 L1928.5,1556.3 L1933.9,1557.1 L1939.4,1557.9 L1944.8,1558.6 L1950.2,1559.3 L1955.6,1560.0 L1961.0,1560.7 L1966.5,1561.3 L1971.9,1561.9 L1977.3,1562.4 L1982.7,1562.9 L1988.1,1563.3 L1993.6,1563.8 L1999.0,1564.2 L2004.4,1564.6 L2009.8,1564.9 L2015.2,1565.3 L2020.7,1565.6 L2026.1,1565.9 L2031.5,1566.3 L2036.9,1566.6 L2042.3,1566.9 L2047.8,1567.1 L2053.2,1567.4 L2058.6,1567.7 L2064.0,1568.0 L2069.5,1568.2 L2074.9,1568.5 L2080.3,1568.8 L2085.7,1569.0 L2091.1,1569.3 L2096.6,1569.6 L2102.0,1569.8 L2107.4,1570.1 L2112.8,1570.4 L2118.2,1570.6 L2123.7,1570.9 L2129.1,1571.1 L2134.5,1571.4 L2139.9,1571.6 L2145.3,1571.9 L2150.8,1572.1 L2156.2,1572.4 L2161.6,1572.6 L2167.0,1572.8 L2172.4,1573.0 L2177.9,1573.3 L2183.3,1573.5 L2188.7,1573.7 L2194.1,1573.9 L2199.6,1574.1 L2205.0,1574.2 L2210.4,1574.4 L2215.8,1574.6 L2221.2,1574.8 L2226.7,1574.9 L2232.1,1575.1 L2237.5,1575.2 L2242.9,1575.3 L2248.3,1575.5 L2253.8,1575.6 L2259.2,1575.7 L2264.6,1575.8 L2270.0,1575.9 L2275.4,1576.0 L2280.9,1576.0 L2286.3,1576.1 L2291.7,1576.2 L2297.1,1576.2 L2302.5,1576.3 L2308.0,1576.4 L2313.4,1576.4 L2318.8,1576.4 L2324.2,1576.5 L2329.7,1576.5" fill="none" stroke="#008080" stroke-width="9.0" stroke-linejoin="round"/>
<g fill="#008080">
<polygon points="248.1,1593.6 272.1,1552.1 224.1,1552.1"/>
<polygon points="334.8,1593.6 358.8,1552.1 310.8,1552.1"/>
<polygon points="421.5,1593.6 445.5,1552.1 397.5,1552.1"/>
<polygon points="508.3,1593.6 532.3,1552.1 484.3,1552.1"/>
<polygon points="595.0,1592.4 619.0,1550.9 571.0,1550.9"/>
<polygon points="681.7,1569.7 705.7,1528.2 657.7,1528.2"/>
<polygon points="768.5,1432.1 792.5,1390.6 744.5,1390.6"/>
<polygon points="855.2,1124.6 879.2,1083.1 831.2,1083.1"/>
<polygon points="941.9,730.2 965.9,688.7 917.9,688.7"/>
<polygon points="1028.7,390.3 1052.7,348.8 1004.7,348.8"/>
<polygon points="1115.4,265.4 1139.4,223.9 1091.4,223.9"/>
<polygon points="1202.1,400.4 1226.1,358.9 1178.1,358.9"/>
<polygon points="1288.9,660.9 1312.9,619.4 1264.9,619.4"/>
<polygon points="1375.6,965.9 1399.6,924.4 1351.6,924.4"/>
<polygon points="1462.3,1198.0 1486.3,1156.5 1438.3,1156.5"/>
<polygon points="1549.1,1355.5 1573.1,1314.0 1525.1,1314.0"/>
<polygon points="1635.8,1463.3 1659.8,1421.8 1611.8,1421.8"/>
<polygon points="1722.5,1527.2 1746.5,1485.7 1698.5,1485.7"/>
<polygon points="1809.3,1560.4 1833.3,1518.9 1785.3,1518.9"/>
<polygon points="1896.0,1578.8 1920.0,1537.3 1872.0,1537.3"/>
<polygon points="1982.7,1590.6 2006.7,1549.1 1958.7,1549.1"/>
<polygon points="2069.5,1595.9 2093.5,1554.4 2045.5,1554.4"/>
<polygon points="2156.2,1600.1 2180.2,1558.6 2132.2,1558.6"/>
<polygon points="2242.9,1603.0 2266.9,1561.5 2218.9,1561.5"/>
<polygon points="2329.7,1604.2 2353.7,1562.7 2305.7,1562.7"/>
</g>
</g>
<rect x="1683.6" y="181.7" width="366.4" height="392.6" fill="none" stroke="#000" stroke-width="3.2"/>
<line x1="1691.7" y1="238.3" x2="1845.2" y2="238.3" stroke="#000000" stroke-width="9.0" stroke-linecap="round"/>
<g fill="#000000"><rect x="1750.2" y="220.1" width="36.5" height="36.5"/></g>
<text class="r" font-size="70"><tspan x="1859.7" y="260.5">750</tspan><tspan x="1979.7" y="223.5" font-size="44">o</tspan><tspan x="2000.8" y="260.5">C</tspan></text>
<line x1="1691.7" y1="337.4" x2="1845.2" y2="337.4" stroke="#ff0000" stroke-width="9.0" stroke-linecap="round"/>
<g fill="#ff0000"><circle cx="1768.5" cy="337.4" r="20.8"/></g>
<text class="r" font-size="70"><tspan x="1859.7" y="359.6">800</tspan><tspan x="1979.7" y="322.6" font-size="44">o</tspan><tspan x="2000.8" y="359.6">C</tspan></text>
<line x1="1691.7" y1="436.4" x2="1845.2" y2="436.4" stroke="#0000ff" stroke-width="9.0" stroke-linecap="round"/>
<g fill="#0000ff"><polygon points="1768.5,408.7 1792.5,450.2 1744.5,450.2"/></g>
<text class="r" font-size="70"><tspan x="1859.7" y="458.7">850</tspan><tspan x="1979.7" y="421.7" font-size="44">o</tspan><tspan x="2000.8" y="458.7">C</tspan></text>
<line x1="1691.7" y1="535.5" x2="1845.2" y2="535.5" stroke="#008080" stroke-width="9.0" stroke-linecap="round"/>
<g fill="#008080"><polygon points="1768.5,563.2 1792.5,521.7 1744.5,521.7"/></g>
<text class="r" font-size="70"><tspan x="1859.7" y="557.8">900</tspan><tspan x="1979.7" y="520.8" font-size="44">o</tspan><tspan x="2000.8" y="557.8">C</tspan></text>
<text class="r" x="1090.9" y="1748" font-size="70" letter-spacing="-0.95">Time/s</text>
<text class="r" font-size="70" transform="translate(73,911.8) rotate(-90)">C<tspan font-size="42.5" dy="27">O2</tspan><tspan dy="-27">(out)/%</tspan></text>
</svg></body></html>
